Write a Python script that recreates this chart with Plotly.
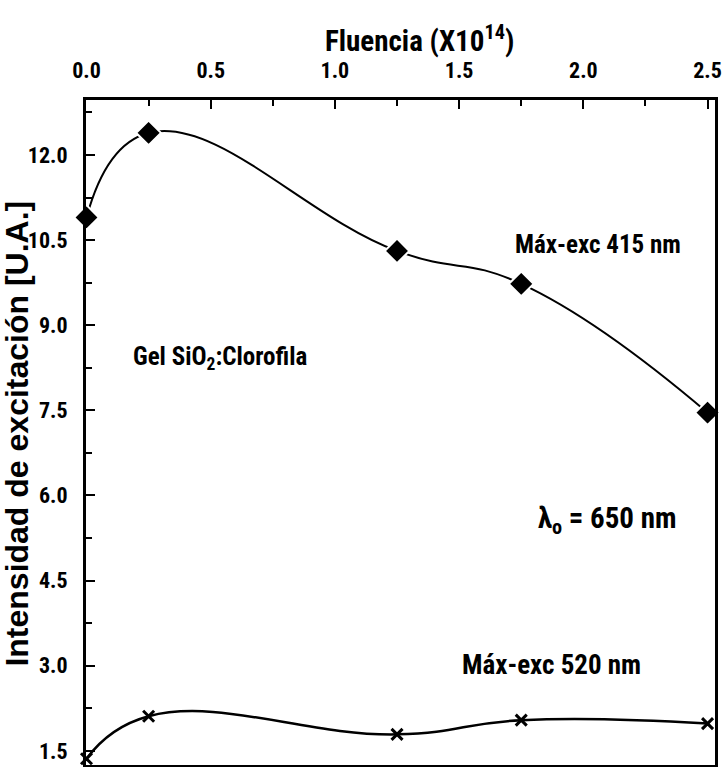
import plotly.graph_objects as go

fluencia = [0.0, 0.25, 1.25, 1.75, 2.5]
exc_415 = [10.90, 12.39, 10.31, 9.73, 7.46]
exc_520 = [1.36, 2.11, 1.79, 2.04, 1.98]
x_ticks = [0.0, 0.5, 1.0, 1.5, 2.0, 2.5]
y_ticks = [1.5, 3.0, 4.5, 6.0, 7.5, 9.0, 10.5, 12.0]

NARROW = "Noto Sans Condensed, Roboto Condensed, Liberation Sans Narrow, Arial Narrow, Roboto, sans-serif"

fig = go.Figure()
fig.add_trace(go.Scatter(
    x=fluencia, y=exc_415, mode="lines+markers",
    line=dict(color="black", width=2, shape="spline", smoothing=1.3),
    marker=dict(symbol="diamond", size=19, color="black",
                line=dict(color="white", width=2)),
    cliponaxis=False, showlegend=False, hoverinfo="skip"))
fig.add_trace(go.Scatter(
    x=fluencia, y=exc_520, mode="lines+markers",
    line=dict(color="black", width=2.5, shape="spline", smoothing=1.3),
    marker=dict(symbol="x-thin", size=11, color="black",
                line=dict(color="black", width=3)),
    cliponaxis=False, showlegend=False, hoverinfo="skip"))

fig.update_layout(
    width=722, height=767,
    margin=dict(l=86, r=7, t=100, b=2, autoexpand=False),
    paper_bgcolor="white", plot_bgcolor="white",
    font=dict(family=NARROW, color="black"),
)
fig.update_xaxes(
    side="top", range=[-0.002, 2.53], automargin=False,
    tickvals=x_ticks, ticktext=[f"{v:.1f}" for v in x_ticks],
    ticks="inside", ticklen=9, tickwidth=2, tickcolor="black",
    minor=dict(dtick=0.25, tick0=0, ticks="inside", ticklen=6, tickwidth=2, tickcolor="black"),
    showline=True, linewidth=3, linecolor="black", mirror=True,
    showgrid=False, zeroline=False,
    tickfont=dict(family=NARROW, size=22, color="black", weight="bold"),
    ticklabelstandoff=10,
)
fig.update_yaxes(
    range=[1.25, 12.97], automargin=False,
    tickvals=y_ticks, ticktext=[f"{v:.1f}" for v in y_ticks],
    ticks="inside", ticklen=9, tickwidth=2, tickcolor="black",
    minor=dict(dtick=0.75, tick0=0, ticks="inside", ticklen=6, tickwidth=2, tickcolor="black"),
    showline=True, linewidth=3, linecolor="black", mirror=True,
    showgrid=False, zeroline=False,
    tickfont=dict(family=NARROW, size=22, color="black", weight="bold"),
    ticklabelstandoff=11,
)

ann_font = dict(family=NARROW, size=25, color="black", weight="bold")
fig.add_annotation(text="Intensidad de excitación [U.A.]", xref="paper", yref="paper",
                   x=-0.109, y=0.499, xanchor="center", yanchor="middle",
                   textangle=-90, showarrow=False,
                   font=dict(family="Liberation Sans, Arial, sans-serif", size=32, color="black", weight="bold"))
fig.add_annotation(text="Fluencia (X10<sup>14</sup>)", xref="paper", yref="paper",
                   x=0.531, y=1.092, xanchor="center", yanchor="middle", showarrow=False,
                   font=dict(family=NARROW, size=29, color="black", weight="bold"))
fig.add_annotation(text="Máx-exc 415 nm", x=2.06, y=10.42, xanchor="center", yanchor="middle",
                   showarrow=False, font=ann_font)
fig.add_annotation(text="Gel SiO<sub>2</sub>:Clorofila", x=0.537, y=8.42, xanchor="center", yanchor="middle",
                   showarrow=False, font=ann_font)
fig.add_annotation(text="λ<sub>o</sub> = 650 nm", x=2.095, y=5.56, xanchor="center", yanchor="middle",
                   showarrow=False, font=dict(family=NARROW, size=29, color="black", weight="bold"))
fig.add_annotation(text="Máx-exc 520 nm", x=1.87, y=3.02, xanchor="center", yanchor="middle",
                   showarrow=False, font=dict(family=NARROW, size=27, color="black", weight="bold"))

fig.write_html("out.html", config={"displayModeBar": False},
               post_script="document.body.style.margin='0';")
